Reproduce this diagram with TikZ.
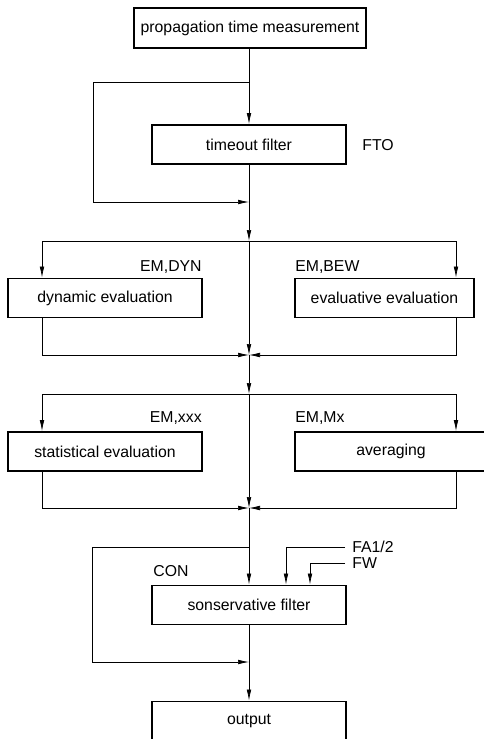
\documentclass[tikz,border=0pt]{standalone}
\usepackage{fontspec}
\setmainfont{Liberation Sans}
\usetikzlibrary{calc,positioning,arrows.meta}

\begin{document}
\begin{tikzpicture}[
		x=1pt, y=-1pt,
		line width=0.7pt,
		>={Latex[length=11pt,width=4.6pt]},
		font=\fontsize{15.8}{19}\selectfont,
		block/.style={draw, line width=1.8pt, minimum width=194pt, minimum height=39pt, inner sep=0pt},
		tag/.style={inner sep=0pt}
	]
	\useasboundingbox (0,0) rectangle (484,739);
	\clip (0,0) rectangle (484,739);

	% Nodes
	\node[block, minimum width=232pt, minimum height=40pt] (meas) at (250,28) {propagation time measurement};
	\node[block] (tof) at (249,144.5) {timeout filter};
	\node[tag, anchor=west] (fto) at (362,145) {FTO};

	\node[block] (dyn) at (105,298) {dynamic evaluation};
	\node[block, minimum width=179pt] (bew) at (384.5,298) {evaluative evaluation};
	\node[tag, anchor=east] (emdyn) at (202,267) {EM,DYN};
	\node[tag, anchor=west] (embew) at (295,267) {EM,BEW};

	\node[block] (stat) at (105,451.5) {statistical evaluation};
	\node[block, minimum width=192pt] (avg) at (391,451.5) {averaging};
	\node[tag, anchor=east] (emxxx) at (202,418) {EM,xxx};
	\node[tag, anchor=west] (emmx) at (295,418) {EM,Mx};

	\node[block] (con) at (249,605) {sonservative filter};
	\node[tag, anchor=west] (conlabel) at (153,571) {CON};
	\node[tag, anchor=west] (fa) at (352,547) {FA1/2};
	\node[tag, anchor=west] (fw) at (352,563) {FW};

	\node[block] (out) at (249,721) {output};

	% Junctions
	\coordinate (split1) at (249,82);
	\coordinate (bypass1) at (93,82);
	\coordinate (join1) at (249,202);
	\coordinate (fork1) at (249,241);
	\coordinate (merge1) at (249,355);
	\coordinate (fork2) at (249,394);
	\coordinate (merge2) at (249,508);
	\coordinate (split3) at (249,547);
	\coordinate (bypass3) at (92,547);
	\coordinate (join3) at (249,662);
	\coordinate (lcol) at (42,0);
	\coordinate (rcol) at (456,0);
	\coordinate (faend) at (345,547);
	\coordinate (fwend) at (345,563);
	\coordinate (fadrop) at (286,0);
	\coordinate (fwdrop) at (310,0);

	% Arrows
	\draw[->] (meas.south -| tof) -- (tof);
	\draw[->] (split1) -- (bypass1) |- (join1);
	\draw (tof) -- (join1);
	\draw[->] (join1) -- (fork1);

	\draw[->] (fork1) -| (lcol |- dyn.north);
	\draw[->] (fork1) -| (rcol |- bew.north);
	\draw[->] (fork1) -- (merge1);
	\draw[->] (lcol |- dyn.south) |- (merge1);
	\draw[->] (rcol |- bew.south) |- (merge1);
	\draw[->] (merge1) -- (fork2);

	\draw[->] (fork2) -| (lcol |- stat.north);
	\draw[->] (fork2) -| (rcol |- avg.north);
	\draw[->] (fork2) -- (merge2);
	\draw[->] (lcol |- stat.south) |- (merge2);
	\draw[->] (rcol |- avg.south) |- (merge2);

	\draw (merge2) -- (split3);
	\draw[->] (split3) -- (con);
	\draw[->] (split3) -- (bypass3) |- (join3);
	\draw[->] (faend) -| (fadrop |- con.north);
	\draw[->] (fwend) -| (fwdrop |- con.north);
	\draw (con) -- (join3);
	\draw[->] (join3) -- (out);
\end{tikzpicture}
\end{document}
